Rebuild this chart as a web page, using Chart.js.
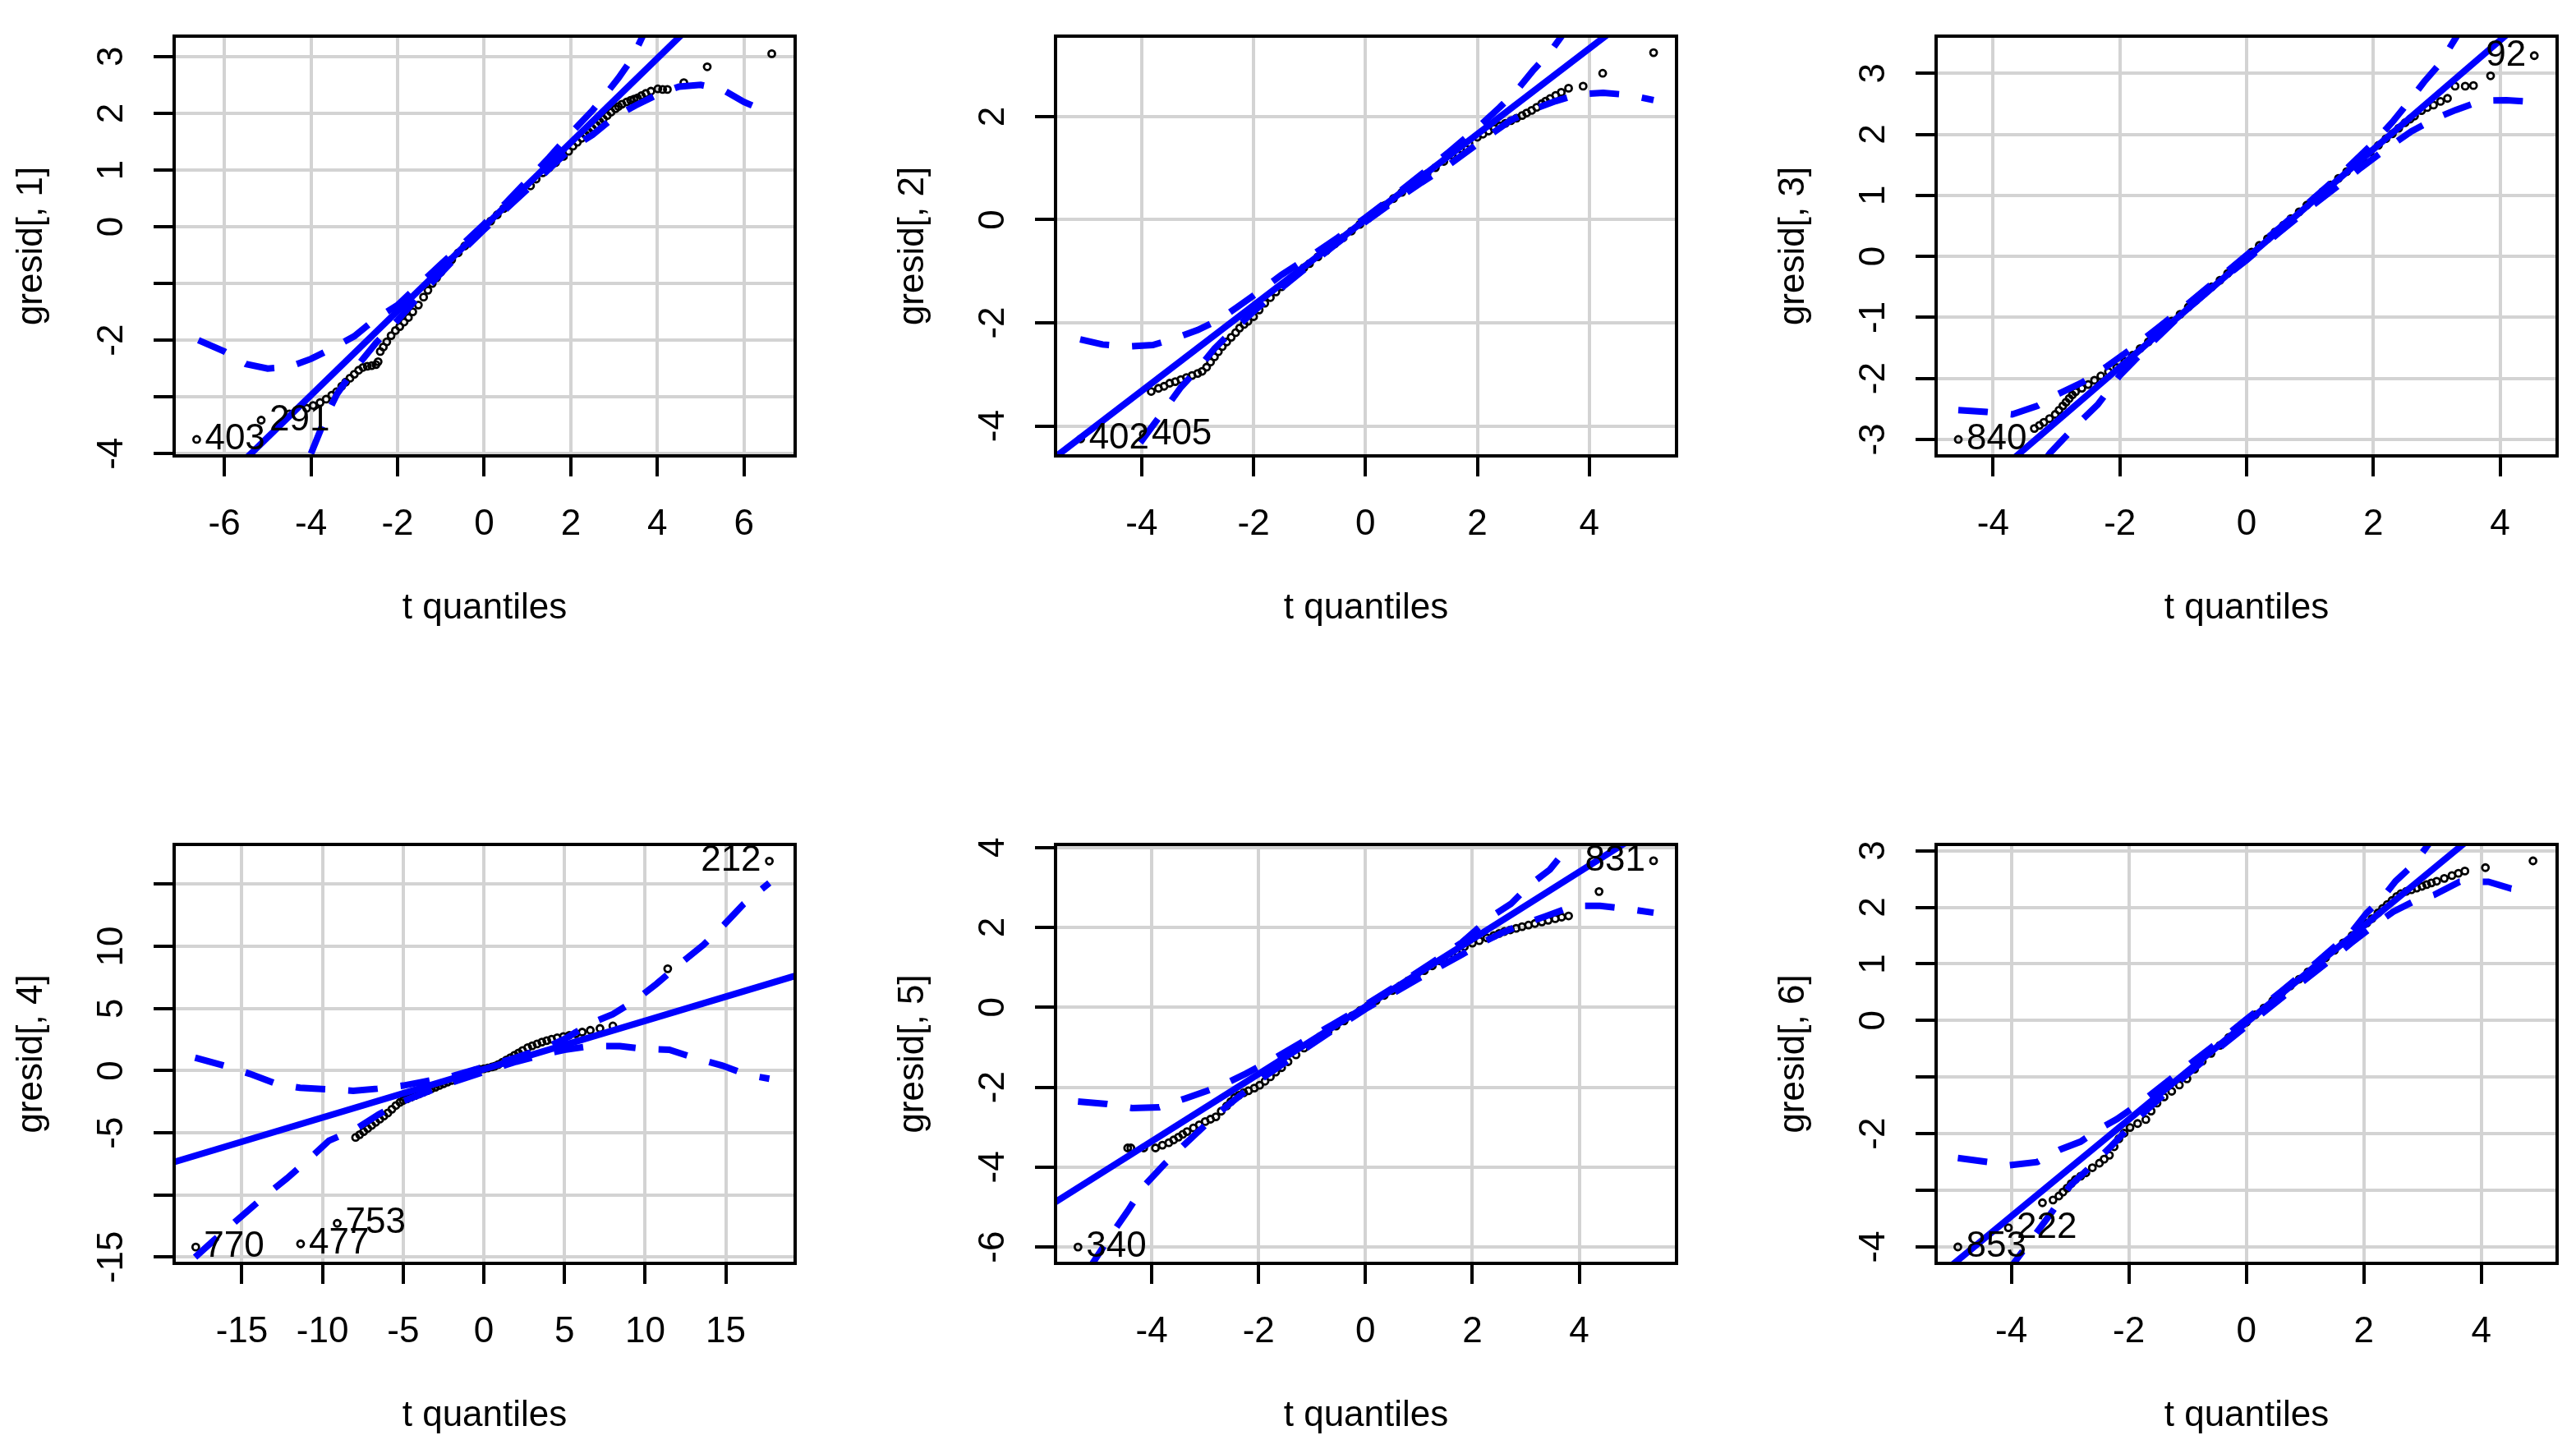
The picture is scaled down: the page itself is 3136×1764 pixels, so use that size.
<!DOCTYPE html>
<html>
<head>
<meta charset="utf-8">
<title>qqPlot gresid</title>
<script src="https://cdn.jsdelivr.net/npm/chart.js@4.4.1/dist/chart.umd.min.js"></script>
<style>
  html, body { margin: 0; padding: 0; background: #fff; }
  body { width: 3136px; height: 1764px; position: relative; overflow: hidden; }
  canvas { position: absolute; }
</style>
</head>
<body>
<canvas id="qq1"></canvas>
<canvas id="qq2"></canvas>
<canvas id="qq3"></canvas>
<canvas id="qq4"></canvas>
<canvas id="qq5"></canvas>
<canvas id="qq6"></canvas>
<script>
// ---- data: [t quantile, residual] ----

// gresid[, 1]
const p1XTicks = [-6, -4, -2, 0, 2, 4, 6];
const p1YTicks = [-4, -3, -2, -1, 0, 1, 2, 3];
const p1YLabels = ['-4', '', '-2', '', '0', '1', '2', '3'];
const p1Points = [[-6.64,-3.75],[-5.15,-3.41],[-4.5,-3.3],[-4.1,-3.2],[-3.95,-3.15],[-3.79,-3.1],[-3.65,-3.04],[-3.52,-2.97],[-3.41,-2.91],[-3.29,-2.81],[-3.2,-2.74],[-3.1,-2.67],[-3.0,-2.6],[-2.9,-2.53],[-2.8,-2.48],[-2.7,-2.46],[-2.6,-2.45],[-2.5,-2.43],[-2.45,-2.38],[-2.4,-2.2],[-2.33,-2.12],[-2.25,-2.03],[-2.15,-1.92],[-2.05,-1.83],[-1.95,-1.76],[-1.85,-1.68],[-1.75,-1.6],[-1.65,-1.5],[-1.52,-1.38],[-1.4,-1.24],[-1.3,-1.12],[-1.2,-1.0],[-1.1,-0.9],[-1.0,-0.8],[-0.9,-0.7],[-0.75,-0.58],[-0.6,-0.46],[-0.45,-0.34],[-0.3,-0.22],[-0.15,-0.11],[0,0],[0.15,0.1],[0.3,0.21],[0.45,0.32],[0.6,0.43],[0.75,0.53],[0.9,0.63],[1.07,0.72],[1.2,0.84],[1.35,0.95],[1.5,1.04],[1.65,1.13],[1.83,1.24],[1.95,1.33],[2.05,1.42],[2.15,1.49],[2.25,1.56],[2.34,1.62],[2.42,1.67],[2.5,1.73],[2.59,1.79],[2.67,1.85],[2.75,1.9],[2.84,1.96],[2.93,2.02],[3.03,2.08],[3.1,2.12],[3.18,2.16],[3.29,2.2],[3.38,2.23],[3.46,2.25],[3.54,2.27],[3.63,2.31],[3.73,2.35],[3.85,2.39],[4.01,2.43],[4.12,2.42],[4.23,2.42],[4.61,2.54],[5.15,2.82],[6.64,3.05]];
const p1Fit = [[-8, -5.94], [8, 5.94]];
const p1Upper = [[-6.6,-2.0],[-6.0,-2.2],[-5.5,-2.42],[-5.0,-2.5],[-4.5,-2.47],[-4.0,-2.33],[-3.5,-2.14],[-3.0,-1.93],[-2.5,-1.62],[-2.0,-1.38],[-1.5,-1.02],[-1.0,-0.66],[-0.5,-0.31],[0,0.05],[0.5,0.42],[1.0,0.82],[1.5,1.22],[2.0,1.65],[2.5,2.05],[2.8,2.33],[3.1,2.62],[3.4,2.95],[3.66,3.36],[4.0,4.0]];
const p1Lower = [[-4.0,-4.0],[-3.66,-3.36],[-3.4,-2.95],[-3.1,-2.62],[-2.8,-2.33],[-2.5,-2.05],[-2.0,-1.65],[-1.5,-1.22],[-1.0,-0.82],[-0.5,-0.42],[0,-0.05],[0.5,0.31],[1.0,0.66],[1.5,1.02],[2.0,1.38],[2.5,1.62],[3.0,1.93],[3.5,2.14],[4.0,2.33],[4.5,2.47],[5.0,2.5],[5.5,2.42],[6.0,2.2],[6.6,2.0]];
const p1Ids = [['403', -6.64, -3.75, 'right'], ['291', -5.15, -3.41, 'right']];

// gresid[, 2]
const p2XTicks = [-4, -2, 0, 2, 4];
const p2YTicks = [-4, -2, 0, 2];
const p2YLabels = ['-4', '-2', '0', '2'];
const p2Points = [[-5.09,-4.25],[-3.97,-4.16],[-3.83,-3.33],[-3.7,-3.27],[-3.6,-3.23],[-3.5,-3.17],[-3.4,-3.14],[-3.3,-3.1],[-3.2,-3.06],[-3.1,-3.02],[-3.0,-2.98],[-2.92,-2.94],[-2.84,-2.86],[-2.77,-2.76],[-2.7,-2.66],[-2.63,-2.56],[-2.56,-2.46],[-2.48,-2.37],[-2.4,-2.28],[-2.32,-2.19],[-2.25,-2.1],[-2.17,-2.03],[-2.1,-1.97],[-2.0,-1.88],[-1.9,-1.75],[-1.8,-1.62],[-1.7,-1.51],[-1.6,-1.4],[-1.5,-1.3],[-1.4,-1.2],[-1.3,-1.11],[-1.2,-1.02],[-1.1,-0.93],[-1.0,-0.85],[-0.85,-0.72],[-0.7,-0.6],[-0.55,-0.47],[-0.4,-0.35],[-0.25,-0.22],[-0.1,-0.09],[0.05,0.03],[0.2,0.15],[0.35,0.28],[0.5,0.41],[0.65,0.53],[0.8,0.65],[0.95,0.77],[1.1,0.89],[1.25,1.01],[1.4,1.13],[1.55,1.25],[1.7,1.37],[1.85,1.48],[2.0,1.6],[2.1,1.66],[2.2,1.72],[2.3,1.77],[2.4,1.82],[2.5,1.87],[2.6,1.92],[2.7,1.97],[2.8,2.02],[2.88,2.07],[2.97,2.12],[3.06,2.18],[3.15,2.25],[3.22,2.3],[3.3,2.35],[3.4,2.41],[3.5,2.47],[3.63,2.55],[3.89,2.59],[4.24,2.84],[5.15,3.24]];
const p2Fit = [[-6, -4.98], [6, 4.98]];
const p2Upper = [[-5.1,-2.32],[-4.7,-2.42],[-4.25,-2.46],[-3.8,-2.43],[-3.4,-2.3],[-3.0,-2.14],[-2.6,-1.93],[-2.3,-1.7],[-2.0,-1.47],[-1.5,-1.07],[-1.0,-0.72],[-0.5,-0.35],[0,0.04],[0.5,0.45],[1.0,0.88],[1.5,1.32],[2.0,1.78],[2.4,2.18],[2.7,2.5],[3.0,2.9],[3.3,3.25],[3.6,3.7],[4.1,4.43]];
const p2Lower = [[-4.5,-5.2],[-4.1,-4.43],[-3.6,-3.7],[-3.3,-3.25],[-3.0,-2.9],[-2.7,-2.5],[-2.4,-2.18],[-2.0,-1.78],[-1.5,-1.32],[-1.0,-0.88],[-0.5,-0.45],[0,-0.04],[0.5,0.35],[1.0,0.72],[1.5,1.07],[2.0,1.47],[2.3,1.7],[2.6,1.93],[3.0,2.14],[3.4,2.3],[3.8,2.43],[4.25,2.46],[4.7,2.42],[5.15,2.32]];
const p2Ids = [['402', -5.09, -4.25, 'right'], ['405', -3.97, -4.16, 'right']];

// gresid[, 3]
const p3XTicks = [-4, -2, 0, 2, 4];
const p3YTicks = [-3, -2, -1, 0, 1, 2, 3];
const p3YLabels = ['-3', '-2', '-1', '0', '1', '2', '3'];
const p3Points = [[-4.55,-3.0],[-3.35,-2.82],[-3.27,-2.77],[-3.2,-2.72],[-3.11,-2.66],[-3.02,-2.59],[-2.96,-2.52],[-2.9,-2.45],[-2.85,-2.39],[-2.8,-2.33],[-2.75,-2.27],[-2.7,-2.22],[-2.6,-2.16],[-2.5,-2.1],[-2.4,-2.03],[-2.3,-1.96],[-2.18,-1.89],[-2.05,-1.82],[-1.92,-1.72],[-1.8,-1.62],[-1.68,-1.51],[-1.55,-1.4],[-1.42,-1.28],[-1.3,-1.17],[-1.18,-1.06],[-1.05,-0.95],[-0.92,-0.83],[-0.8,-0.72],[-0.68,-0.61],[-0.55,-0.5],[-0.42,-0.39],[-0.3,-0.28],[-0.17,-0.16],[-0.05,-0.05],[0.08,0.07],[0.2,0.18],[0.33,0.29],[0.45,0.4],[0.58,0.51],[0.7,0.62],[0.83,0.73],[0.95,0.84],[1.08,0.95],[1.2,1.06],[1.33,1.17],[1.45,1.28],[1.58,1.39],[1.7,1.5],[1.83,1.6],[1.95,1.71],[2.08,1.82],[2.2,1.93],[2.3,2.01],[2.4,2.1],[2.5,2.19],[2.58,2.25],[2.65,2.3],[2.76,2.39],[2.85,2.44],[2.95,2.48],[3.06,2.54],[3.17,2.59],[3.29,2.79],[3.45,2.79],[3.58,2.8],[3.85,2.96],[4.54,3.29]];
const p3Fit = [[-5.5, -4.94], [5.5, 4.88]];
const p3Upper = [[-4.55,-2.52],[-4.1,-2.55],[-3.7,-2.59],[-3.3,-2.45],[-3.0,-2.27],[-2.6,-2.07],[-2.2,-1.8],[-1.8,-1.5],[-1.4,-1.17],[-1.0,-0.84],[-0.5,-0.41],[0,0.02],[0.5,0.45],[1.0,0.9],[1.5,1.36],[2.0,1.86],[2.3,2.2],[2.55,2.52],[2.8,2.86],[3.05,3.16],[3.3,3.58],[3.5,3.95]];
const p3Lower = [[-3.6,-4.0],[-3.3,-3.5],[-3.1,-3.22],[-2.9,-3.0],[-2.6,-2.68],[-2.35,-2.43],[-2.0,-1.95],[-1.5,-1.42],[-1.0,-0.92],[-0.5,-0.47],[0,-0.06],[0.5,0.38],[1.0,0.8],[1.5,1.2],[1.8,1.45],[2.2,1.76],[2.6,2.05],[3.0,2.27],[3.3,2.4],[3.7,2.55],[4.1,2.56],[4.54,2.53]];
const p3Ids = [['840', -4.55, -3.0, 'right'], ['92', 4.54, 3.29, 'left']];

// gresid[, 4]
const p4XTicks = [-15, -10, -5, 0, 5, 10, 15];
const p4YTicks = [-15, -10, -5, 0, 5, 10, 15];
const p4YLabels = ['-15', '', '-5', '0', '5', '10', ''];
const p4Points = [[-17.86,-14.19],[-11.36,-13.93],[-9.09,-12.28],[-7.95,-5.37],[-7.7,-5.15],[-7.45,-4.9],[-7.2,-4.65],[-6.95,-4.4],[-6.7,-4.15],[-6.45,-3.9],[-6.2,-3.65],[-5.95,-3.4],[-5.7,-3.1],[-5.45,-2.8],[-5.2,-2.55],[-5.0,-2.4],[-4.75,-2.27],[-4.5,-2.13],[-4.25,-2.0],[-4.0,-1.87],[-3.75,-1.73],[-3.5,-1.6],[-3.25,-1.46],[-3.0,-1.33],[-2.75,-1.19],[-2.5,-1.06],[-2.25,-0.92],[-2.0,-0.79],[-1.75,-0.65],[-1.5,-0.52],[-1.25,-0.38],[-1.0,-0.25],[-0.75,-0.11],[-0.5,0.0],[-0.25,0.1],[0,0.15],[0.25,0.22],[0.5,0.3],[0.68,0.36],[0.9,0.5],[1.15,0.68],[1.4,0.86],[1.65,1.05],[1.9,1.24],[2.15,1.43],[2.4,1.62],[2.72,1.85],[3.0,2.0],[3.3,2.15],[3.6,2.3],[3.9,2.42],[4.2,2.53],[4.55,2.65],[4.93,2.75],[5.3,2.85],[5.7,2.97],[6.1,3.1],[6.6,3.25],[7.2,3.4],[8.0,3.6],[11.4,8.2],[17.7,16.86]];
const p4Fit = [[-20, -7.66], [20, 7.9]];
const p4Upper = [[-17.9,1.05],[-16.1,0.4],[-14.5,-0.26],[-12.8,-1.09],[-11.4,-1.38],[-9.6,-1.5],[-8.1,-1.62],[-6.6,-1.45],[-5.0,-1.2],[-4.0,-0.95],[-2.0,-0.45],[0,0.3],[2.0,1.05],[4.0,1.95],[5.0,2.55],[6.7,3.85],[8.0,4.55],[9.4,5.66],[10.7,6.98],[12.2,8.63],[13.6,10.1],[14.9,11.75],[16.1,13.4],[17.7,15.1]];
const p4Lower = [[-17.9,-15.0],[-16.7,-13.6],[-15.1,-11.8],[-13.6,-10.1],[-12.2,-8.66],[-10.9,-7.18],[-9.6,-5.63],[-7.95,-4.7],[-6.5,-3.5],[-5.0,-2.45],[-4.0,-1.95],[-2.0,-0.95],[0,-0.1],[2.0,0.72],[4.0,1.4],[5.0,1.68],[6.66,1.98],[8.44,1.98],[9.9,1.75],[11.5,1.68],[13.0,1.05],[14.8,0.4],[16.3,-0.33],[17.7,-0.65]];
const p4Ids = [['212', 17.7, 16.86, 'left'], ['753', -9.09, -12.28, 'right'], ['477', -11.36, -13.93, 'right'], ['770', -17.86, -14.19, 'right']];

// gresid[, 5]
const p5XTicks = [-4, -2, 0, 2, 4];
const p5YTicks = [-6, -4, -2, 0, 2, 4];
const p5YLabels = ['-6', '-4', '-2', '0', '2', '4'];
const p5Points = [[-5.38,-6.0],[-4.45,-3.52],[-4.39,-3.52],[-4.15,-3.52],[-3.93,-3.52],[-3.8,-3.45],[-3.68,-3.39],[-3.59,-3.32],[-3.5,-3.25],[-3.42,-3.18],[-3.34,-3.11],[-3.22,-3.02],[-3.11,-2.94],[-3.0,-2.86],[-2.9,-2.8],[-2.8,-2.74],[-2.7,-2.6],[-2.6,-2.47],[-2.52,-2.36],[-2.45,-2.26],[-2.37,-2.2],[-2.28,-2.14],[-2.19,-2.09],[-2.08,-2.02],[-1.98,-1.95],[-1.88,-1.85],[-1.78,-1.74],[-1.68,-1.62],[-1.57,-1.51],[-1.45,-1.36],[-1.3,-1.19],[-1.15,-1.02],[-1.0,-0.87],[-0.85,-0.73],[-0.7,-0.6],[-0.55,-0.47],[-0.4,-0.34],[-0.25,-0.21],[-0.1,-0.08],[0.05,0.04],[0.2,0.17],[0.35,0.3],[0.5,0.42],[0.65,0.54],[0.8,0.67],[0.95,0.79],[1.1,0.92],[1.25,1.04],[1.4,1.16],[1.55,1.28],[1.7,1.4],[1.85,1.52],[2.0,1.61],[2.13,1.67],[2.27,1.74],[2.4,1.8],[2.5,1.85],[2.6,1.9],[2.71,1.94],[2.82,1.98],[2.93,2.02],[3.05,2.06],[3.17,2.1],[3.3,2.14],[3.42,2.18],[3.55,2.22],[3.67,2.26],[3.8,2.29],[4.37,2.9],[5.39,3.67]];
const p5Fit = [[-6, -5.04], [6, 5.08]];
const p5Upper = [[-5.38,-2.36],[-4.84,-2.42],[-4.37,-2.52],[-3.86,-2.5],[-3.37,-2.28],[-2.92,-2.07],[-2.56,-1.87],[-2.24,-1.66],[-1.8,-1.35],[-1.2,-0.88],[-0.6,-0.42],[0,0.06],[0.6,0.56],[1.2,1.08],[1.8,1.62],[2.37,2.29],[2.72,2.59],[3.06,3.05],[3.45,3.45],[3.8,4.03],[4.1,4.5]];
const p5Lower = [[-5.2,-6.6],[-4.74,-5.66],[-4.45,-5.1],[-4.15,-4.48],[-3.76,-3.92],[-3.4,-3.45],[-3.0,-2.95],[-2.6,-2.48],[-2.2,-2.05],[-1.8,-1.65],[-1.2,-1.1],[-0.6,-0.56],[0,-0.04],[0.6,0.42],[1.2,0.88],[1.8,1.32],[2.24,1.66],[2.56,1.87],[2.92,2.07],[3.37,2.28],[3.9,2.54],[4.39,2.54],[4.88,2.47],[5.39,2.37]];
const p5Ids = [['340', -5.38, -6.0, 'right'], ['831', 5.39, 3.67, 'left']];

// gresid[, 6]
const p6XTicks = [-4, -2, 0, 2, 4];
const p6YTicks = [-4, -3, -2, -1, 0, 1, 2, 3];
const p6YLabels = ['-4', '', '-2', '', '0', '1', '2', '3'];
const p6Points = [[-4.91,-4.0],[-4.05,-3.66],[-3.47,-3.22],[-3.29,-3.17],[-3.19,-3.1],[-3.12,-3.03],[-3.05,-2.96],[-2.98,-2.88],[-2.91,-2.81],[-2.82,-2.75],[-2.73,-2.69],[-2.62,-2.6],[-2.5,-2.52],[-2.42,-2.45],[-2.33,-2.38],[-2.25,-2.23],[-2.17,-2.09],[-2.08,-1.99],[-1.98,-1.89],[-1.85,-1.82],[-1.71,-1.75],[-1.62,-1.6],[-1.52,-1.46],[-1.4,-1.35],[-1.27,-1.25],[-1.14,-1.14],[-1.01,-1.03],[-0.88,-0.86],[-0.75,-0.72],[-0.6,-0.58],[-0.45,-0.44],[-0.3,-0.3],[-0.15,-0.16],[0,-0.03],[0.15,0.1],[0.3,0.22],[0.45,0.35],[0.6,0.48],[0.75,0.61],[0.9,0.73],[1.05,0.86],[1.2,0.99],[1.35,1.11],[1.5,1.24],[1.65,1.37],[1.8,1.5],[1.95,1.63],[2.05,1.72],[2.14,1.8],[2.24,1.9],[2.32,1.98],[2.4,2.05],[2.48,2.12],[2.56,2.19],[2.63,2.24],[2.72,2.28],[2.81,2.31],[2.9,2.34],[2.99,2.37],[3.07,2.4],[3.15,2.43],[3.24,2.46],[3.37,2.51],[3.5,2.56],[3.61,2.6],[3.72,2.64],[4.07,2.7],[4.88,2.82]];
const p6Fit = [[-5.5, -4.74], [5.5, 4.66]];
const p6Upper = [[-4.91,-2.43],[-4.4,-2.5],[-4.05,-2.56],[-3.56,-2.5],[-3.17,-2.28],[-2.82,-2.14],[-2.51,-1.92],[-2.2,-1.74],[-1.8,-1.45],[-1.2,-0.96],[-0.6,-0.48],[0,0.02],[0.6,0.52],[1.2,1.03],[1.8,1.57],[2.05,1.9],[2.32,2.17],[2.54,2.46],[2.84,2.75],[3.1,3.11],[3.4,3.55]];
const p6Lower = [[-4.1,-4.5],[-3.96,-4.29],[-3.3,-3.37],[-3.0,-2.92],[-2.64,-2.57],[-2.3,-2.22],[-1.8,-1.68],[-1.2,-1.12],[-0.6,-0.6],[0,-0.1],[0.6,0.4],[1.2,0.88],[1.8,1.38],[2.2,1.7],[2.5,1.92],[2.84,2.1],[3.2,2.22],[3.63,2.45],[4.12,2.45],[4.51,2.33],[4.88,2.3]];
const p6Ids = [['853', -4.91, -4.0, 'right'], ['222', -4.05, -3.66, 'right']];

// ---- drawing ----
const FAMILY = '"Liberation Sans", Arial, sans-serif';
const FONT_PX = 44;
const BLUE = '#0000ff';
const GRID = '#d3d3d3';
const Y_AXIS_W = 200;
const X_AXIS_H = 220;
const PAD_TOP = 40;
const PAD_RIGHT = 20;

const toXY = arr => arr.map(([x, y]) => ({ x, y }));

// box round the plot region and R-style rotated y tick labels
function framePlugin(yTicks, yLabels) {
  return {
    id: 'rFrame',
    afterDraw(chart) {
      const { ctx, chartArea: a, scales: { y } } = chart;
      ctx.save();
      ctx.strokeStyle = '#000';
      ctx.lineWidth = 4;
      ctx.strokeRect(a.left, a.top, a.right - a.left, a.bottom - a.top);
      ctx.fillStyle = '#000';
      ctx.font = `${FONT_PX}px ${FAMILY}`;
      ctx.textAlign = 'center';
      ctx.textBaseline = 'middle';
      yTicks.forEach((v, i) => {
        if (!yLabels[i]) return;
        ctx.save();
        ctx.translate(a.left - 75, y.getPixelForValue(v));
        ctx.rotate(-Math.PI / 2);
        ctx.fillText(yLabels[i], 0, 0);
        ctx.restore();
      });
      ctx.restore();
    }
  };
}

// point identification labels
function idPlugin(ids) {
  return {
    id: 'idLabels',
    afterDatasetsDraw(chart) {
      const { ctx, chartArea: a, scales: { x, y } } = chart;
      ctx.save();
      ctx.beginPath();
      ctx.rect(a.left, a.top, a.right - a.left, a.bottom - a.top);
      ctx.clip();
      ctx.fillStyle = '#000';
      ctx.font = `${FONT_PX}px ${FAMILY}`;
      ctx.textBaseline = 'middle';
      ids.forEach(([text, vx, vy, side]) => {
        const px = x.getPixelForValue(vx);
        const py = y.getPixelForValue(vy);
        ctx.textAlign = side === 'right' ? 'left' : 'right';
        ctx.fillText(text, side === 'right' ? px + 10 : px - 10, py);
      });
      ctx.restore();
    }
  };
}

function drawQQ(p) {
  const el = document.getElementById(p.id);
  el.width = p.w + Y_AXIS_W + PAD_RIGHT;
  el.height = p.h + PAD_TOP + X_AXIS_H;
  el.style.left = (p.left - Y_AXIS_W) + 'px';
  el.style.top = (p.top - PAD_TOP) + 'px';

  const font = { family: FAMILY, size: FONT_PX };
  const envelope = data => ({
    data: toXY(data), showLine: true, borderColor: BLUE, borderWidth: 8,
    borderDash: [36, 28], pointRadius: 0, clip: 0, order: 1
  });

  new Chart(el, {
    type: 'scatter',
    data: {
      datasets: [
        envelope(p.upper),
        envelope(p.lower),
        { data: toXY(p.fit), showLine: true, borderColor: BLUE, borderWidth: 8, pointRadius: 0, clip: 0, order: 2 },
        { data: toXY(p.points), pointRadius: 4, pointBorderWidth: 2.8, pointBorderColor: '#000',
          pointBackgroundColor: 'rgba(0,0,0,0)', clip: 0, order: 3 }
      ]
    },
    options: {
      responsive: false,
      animation: false,
      devicePixelRatio: 1,
      events: [],
      layout: { padding: { left: 0, top: PAD_TOP, right: PAD_RIGHT, bottom: 0 } },
      plugins: { legend: { display: false }, tooltip: { enabled: false } },
      scales: {
        x: {
          type: 'linear', min: p.xRange[0], max: p.xRange[1], bounds: 'data',
          afterBuildTicks: s => { s.ticks = p.xTicks.map(v => ({ value: v })); },
          afterFit: s => { s.height = X_AXIS_H; },
          border: { display: false },
          grid: { color: GRID, lineWidth: 4, tickColor: '#000', tickWidth: 4, tickLength: 25 },
          ticks: { color: '#000', font, padding: 32, autoSkip: false, maxRotation: 0, minRotation: 0,
                   callback: v => String(v) },
          title: { display: true, text: 't quantiles', color: '#000', font, padding: { top: 0, bottom: 8 } }
        },
        y: {
          type: 'linear', min: p.yRange[0], max: p.yRange[1], bounds: 'data',
          afterBuildTicks: s => { s.ticks = p.yTicks.map(v => ({ value: v })); },
          afterFit: s => { s.width = Y_AXIS_W; },
          border: { display: false },
          grid: { color: GRID, lineWidth: 4, tickColor: '#000', tickWidth: 4, tickLength: 25 },
          ticks: { display: false },
          title: { display: true, text: p.title, color: '#000', font, padding: { top: 0, bottom: 0 } }
        }
      }
    },
    plugins: [framePlugin(p.yTicks, p.yLabels), idPlugin(p.ids)]
  });
}

const colLeft = [212, 1285, 2357];
const rowTop = [44, 1028];

drawQQ({ id: 'qq1', title: 'gresid[, 1]', left: colLeft[0], top: rowTop[0], w: 756, h: 511,
  xRange: [-7.16, 7.18], yRange: [-4.04, 3.36], xTicks: p1XTicks, yTicks: p1YTicks, yLabels: p1YLabels,
  points: p1Points, fit: p1Fit, upper: p1Upper, lower: p1Lower, ids: p1Ids });
drawQQ({ id: 'qq2', title: 'gresid[, 2]', left: colLeft[1], top: rowTop[0], w: 756, h: 511,
  xRange: [-5.54, 5.56], yRange: [-4.58, 3.56], xTicks: p2XTicks, yTicks: p2YTicks, yLabels: p2YLabels,
  points: p2Points, fit: p2Fit, upper: p2Upper, lower: p2Lower, ids: p2Ids });
drawQQ({ id: 'qq3', title: 'gresid[, 3]', left: colLeft[2], top: rowTop[0], w: 756, h: 511,
  xRange: [-4.9, 4.9], yRange: [-3.27, 3.61], xTicks: p3XTicks, yTicks: p3YTicks, yLabels: p3YLabels,
  points: p3Points, fit: p3Fit, upper: p3Upper, lower: p3Lower, ids: p3Ids });
drawQQ({ id: 'qq4', title: 'gresid[, 4]', left: colLeft[0], top: rowTop[1], w: 756, h: 510,
  xRange: [-19.2, 19.3], yRange: [-15.5, 18.2], xTicks: p4XTicks, yTicks: p4YTicks, yLabels: p4YLabels,
  points: p4Points, fit: p4Fit, upper: p4Upper, lower: p4Lower, ids: p4Ids });
drawQQ({ id: 'qq5', title: 'gresid[, 5]', left: colLeft[1], top: rowTop[1], w: 756, h: 510,
  xRange: [-5.8, 5.82], yRange: [-6.41, 4.08], xTicks: p5XTicks, yTicks: p5YTicks, yLabels: p5YLabels,
  points: p5Points, fit: p5Fit, upper: p5Upper, lower: p5Lower, ids: p5Ids });
drawQQ({ id: 'qq6', title: 'gresid[, 6]', left: colLeft[2], top: rowTop[1], w: 756, h: 510,
  xRange: [-5.28, 5.29], yRange: [-4.29, 3.11], xTicks: p6XTicks, yTicks: p6YTicks, yLabels: p6YLabels,
  points: p6Points, fit: p6Fit, upper: p6Upper, lower: p6Lower, ids: p6Ids });
</script>
</body>
</html>
